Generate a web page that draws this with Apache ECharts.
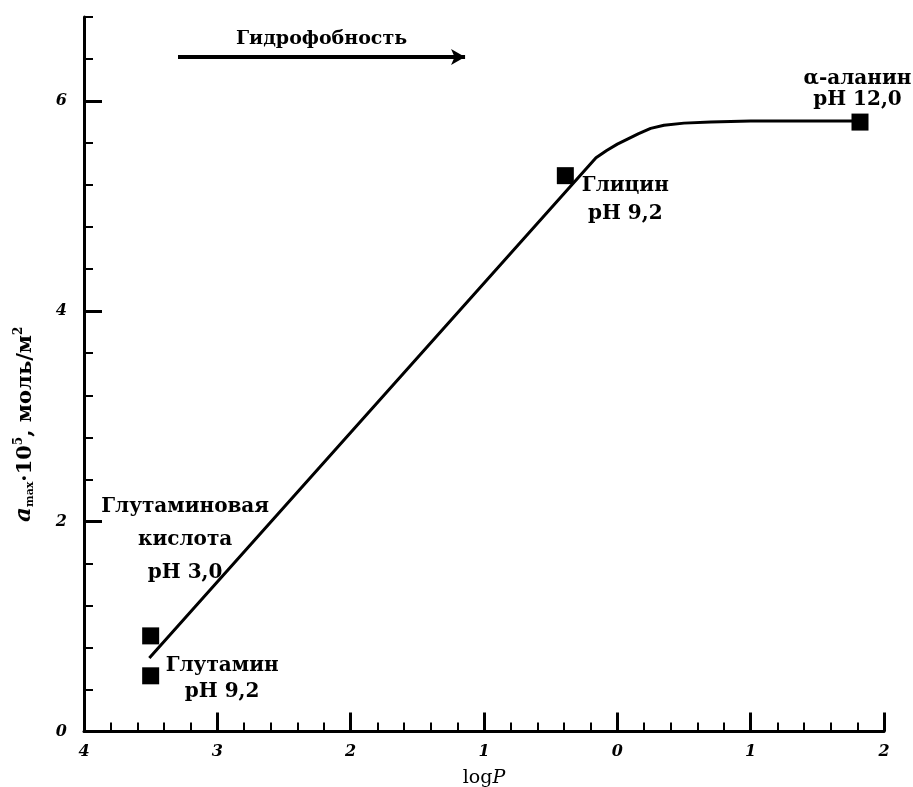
<!DOCTYPE html>
<html><head><meta charset="utf-8">
<script src="https://cdn.jsdelivr.net/npm/echarts@6/dist/echarts.min.js"></script>
<style>html,body{margin:0;padding:0;background:#fff}#c{width:913px;height:787px}</style>
</head><body><div id="c"></div>
<script>
// ---- data ----
const xTickValues = [-4, -3, -2, -1, 0, 1, 2];
const xTickLabels = ['4', '3', '2', '1', '0', '1', '2'];
const yTickValues = [0, 2, 4, 6];
const yTickLabels = ['0', '2', '4', '6'];

const curveX = [-3.51, -0.16, -0.08, 0.0, 0.08, 0.16, 0.25, 0.35, 0.5, 0.7, 1.0, 1.8];
const curveY = [0.70, 5.46, 5.53, 5.59, 5.64, 5.69, 5.74, 5.77, 5.79, 5.80, 5.81, 5.81];

const pointX = [-3.50, -3.50, -0.39, 1.82];
const pointY = [0.91, 0.53, 5.29, 5.80];
const pointLabels = [
  ['Глутаминовая', 'кислота', 'рН 3,0'],
  ['Глутамин', 'рН 9,2'],
  ['Глицин', 'рН 9,2'],
  ['α-аланин', 'рН 12,0']
];

const arrowX = [-3.295, -1.142];
const arrowY = 6.42;
const arrowText = 'Гидрофобность';

// ---- styling ----
const SERIF = 'DejaVu Serif';
const labelFont = {fontFamily: SERIF, fontSize: 20, fontWeight: 'bold', color: '#000', opacity: 1};
const labelLayouts = [
  {position: [43, -137.5], align: 'center', verticalAlign: 'top', lineHeight: 33},
  {position: [80, -15], align: 'center', verticalAlign: 'top', lineHeight: 26},
  {position: [68.5, 4.5], align: 'center', verticalAlign: 'top', lineHeight: 28},
  {position: [6, -45], align: 'center', verticalAlign: 'top', lineHeight: 21}
];

const chart = echarts.init(document.getElementById('c'), null, {renderer: 'canvas'});

const scatterData = pointX.map((x, i) => ({
  value: [x, pointY[i]],
  label: Object.assign({show: true, formatter: pointLabels[i].join('\n')}, labelFont, labelLayouts[i])
}));

const option = {
  animation: false,
  backgroundColor: '#fff',
  grid: {left: 84, right: 29, top: 17, bottom: 55.5, containLabel: false, outerBoundsMode: 'none'},
  xAxis: {
    type: 'value', min: -4, max: 2, interval: 1,
    name: '{n|log}{i|P}', nameLocation: 'middle', nameGap: 37,
    nameTextStyle: {rich: {
      n: {fontFamily: SERIF, fontSize: 19, color: '#000', verticalAlign: 'top'},
      i: {fontFamily: SERIF, fontSize: 19, fontStyle: 'italic', color: '#000', verticalAlign: 'top'}
    }},
    axisLine: {onZero: false, lineStyle: {color: '#000', width: 3}},
    axisTick: {inside: true, length: 19, lineStyle: {color: '#000', width: 3}},
    minorTick: {show: true, splitNumber: 5, length: 9, lineStyle: {color: '#000', width: 2}},
    splitLine: {show: false},
    axisLabel: {
      margin: 12, fontFamily: SERIF, fontSize: 16, fontStyle: 'italic', fontWeight: 'bold', color: '#000',
      formatter: v => { const k = xTickValues.indexOf(v); return k >= 0 ? xTickLabels[k] : ''; }
    }
  },
  yAxis: [{
    type: 'value', min: 0, max: 6.8, interval: 0.4,
    name: '{a|a}{s|max}{n|·10}{p|5}{n|, моль/м}{p|2}',
    nameLocation: 'middle', nameGap: 48, nameRotate: 90,
    nameTextStyle: {padding: [0, 100, 0, 0], rich: {
      a: {fontFamily: SERIF, fontSize: 23, fontStyle: 'italic', fontWeight: 'bold', color: '#000', verticalAlign: 'bottom'},
      s: {fontFamily: SERIF, fontSize: 11, fontWeight: 'bold', color: '#000', verticalAlign: 'bottom'},
      n: {fontFamily: SERIF, fontSize: 21, fontWeight: 'bold', color: '#000', verticalAlign: 'bottom'},
      p: {fontFamily: SERIF, fontSize: 12, fontWeight: 'bold', color: '#000', verticalAlign: 'top'}
    }},
    axisLine: {onZero: false, lineStyle: {color: '#000', width: 3}},
    axisTick: {inside: true, length: 18, customValues: yTickValues, lineStyle: {color: '#000', width: 3}},
    splitLine: {show: false},
    axisLabel: {
      customValues: yTickValues, margin: 17,
      fontFamily: SERIF, fontSize: 16, fontStyle: 'italic', fontWeight: 'bold', color: '#000',
      formatter: v => { const k = yTickValues.indexOf(Math.round(v * 10) / 10); return k >= 0 ? yTickLabels[k] : ''; }
    }
  }, {
    type: 'value', min: 0, max: 6.8, interval: 0.4, position: 'left', offset: 0,
    axisLine: {show: false, onZero: false},
    axisTick: {show: true, inside: true, length: 9, lineStyle: {color: '#000', width: 2}},
    axisLabel: {show: false},
    splitLine: {show: false}
  }],
  series: [{
    type: 'line', xAxisIndex: 0, yAxisIndex: 0,
    data: curveX.map((x, i) => [x, curveY[i]]),
    showSymbol: false, symbol: 'none', silent: true,
    lineStyle: {color: '#000', width: 3}
  }, {
    type: 'line', xAxisIndex: 0, yAxisIndex: 0, data: [], silent: true,
    markLine: {
      silent: true, symbol: ['none', 'arrow'], symbolSize: [12, 14],
      lineStyle: {color: '#000', width: 4, type: 'solid'},
      label: {show: true, position: 'insideMiddleTop', distance: 8, formatter: arrowText,
        fontFamily: SERIF, fontSize: 19, fontWeight: 'bold', color: '#000'},
      data: [[{coord: [arrowX[0], arrowY]}, {coord: [arrowX[1], arrowY]}]]
    }
  }, {
    type: 'scatter', xAxisIndex: 0, yAxisIndex: 0,
    symbol: 'rect', symbolSize: 17, silent: true,
    itemStyle: {color: '#000', opacity: 1},
    data: scatterData
  }]
};
chart.setOption(option);
</script>
</body></html>
